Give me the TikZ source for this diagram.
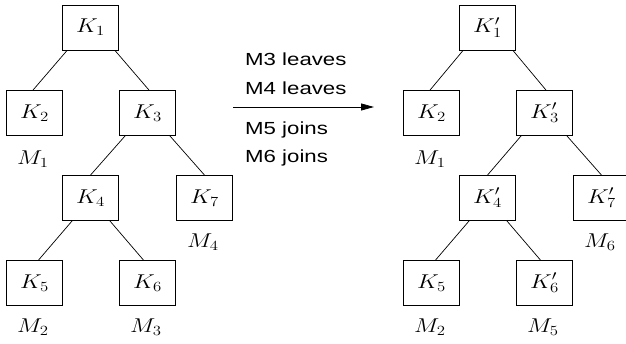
\RequirePackage{fix-cm}
\documentclass[tikz,border=0pt]{standalone}
\usepackage{fontspec}
\newfontfamily\hv[FakeStretch=1.27]{Liberation Sans}
\usetikzlibrary{arrows.meta}
\newcommand{\wm}[1]{\scalebox{1.2}[1]{$#1$}}
\tikzset{
  kbox/.style={draw, line width=0.8pt, minimum width=56pt, minimum height=45pt, inner sep=0pt, font=\fontsize{20}{24}\selectfont},
  mlab/.style={anchor=base, inner sep=0pt, font=\fontsize{20}{24}\selectfont},
  edge/.style={line width=0.7pt},
  msg/.style={anchor=base west, inner sep=0pt, font=\hv\fontsize{17.5}{20}\selectfont},
  trans/.style={line width=0.8pt, -{Triangle[length=13pt,width=7pt]}}
}
\begin{document}
\begin{tikzpicture}[x=1pt,y=-1pt]
\useasboundingbox (0,0) rectangle (626,344);
% left tree
\node[kbox] (a1) at (90.5,27.5) {\wm{K_1}};
\node[kbox] (a2) at (34.5,113) {\wm{K_2}};
\node[kbox] (a3) at (147.5,113) {\wm{K_3}};
\node[kbox] (a4) at (90.5,198) {\wm{K_4}};
\node[kbox] (a7) at (204.5,198) {\wm{K_7}};
\node[kbox] (a5) at (34.5,283) {\wm{K_5}};
\node[kbox] (a6) at (147.5,283) {\wm{K_6}};
\node[mlab] (am1) at (33,165) {\wm{M_1}};
\node[mlab] (am4) at (203,248) {\wm{M_4}};
\node[mlab] (am2) at (33,332) {\wm{M_2}};
\node[mlab] (am3) at (146,332) {\wm{M_3}};
\draw[edge] ([xshift=5pt]a1.south west) -- ([xshift=-1.5pt]a2.north);
\draw[edge] ([xshift=-4pt]a1.south east) -- ([xshift=1.5pt]a3.north);
\draw[edge] ([xshift=6pt]a3.south west) -- (a4.north);
\draw[edge] ([xshift=-6pt]a3.south east) -- (a7.north);
\draw[edge] ([xshift=10pt]a4.south west) -- ([xshift=4pt]a5.north);
\draw[edge] ([xshift=-9pt]a4.south east) -- ([xshift=-4pt]a6.north);
% right tree
\node[kbox] (b1) at (487.5,27.5) {\wm{K_1'}};
\node[kbox] (b2) at (431.5,113) {\wm{K_2}};
\node[kbox] (b3) at (544.5,113) {\wm{K_3'}};
\node[kbox] (b4) at (487.5,198) {\wm{K_4'}};
\node[kbox] (b7) at (601.5,198) {\wm{K_7'}};
\node[kbox] (b5) at (431.5,283) {\wm{K_5}};
\node[kbox] (b6) at (544.5,283) {\wm{K_6'}};
\node[mlab] (bm1) at (430,165) {\wm{M_1}};
\node[mlab] (bm6) at (600,248) {\wm{M_6}};
\node[mlab] (bm2) at (430,332) {\wm{M_2}};
\node[mlab] (bm5) at (543,332) {\wm{M_5}};
\draw[edge] ([xshift=4pt]b1.south west) -- ([xshift=-1.5pt]b2.north);
\draw[edge] ([xshift=-3pt]b1.south east) -- ([xshift=1.5pt]b3.north);
\draw[edge] ([xshift=5pt]b3.south west) -- (b4.north);
\draw[edge] ([xshift=-6pt]b3.south east) -- (b7.north);
\draw[edge] ([xshift=10pt]b4.south west) -- ([xshift=4pt]b5.north);
\draw[edge] ([xshift=-9pt]b4.south east) -- ([xshift=-4pt]b6.north);
% transition
\coordinate (s) at (233,107);
\coordinate (t) at (374,107);
\draw[trans] (s) -- (t);
\node[msg] (t1) at (245,65.7) {M3 leaves};
\node[msg] (t2) at (245,95) {M4 leaves};
\node[msg] (t3) at (245,135) {M5 joins};
\node[msg] (t4) at (245,163) {M6 joins};
\end{tikzpicture}
\end{document}
